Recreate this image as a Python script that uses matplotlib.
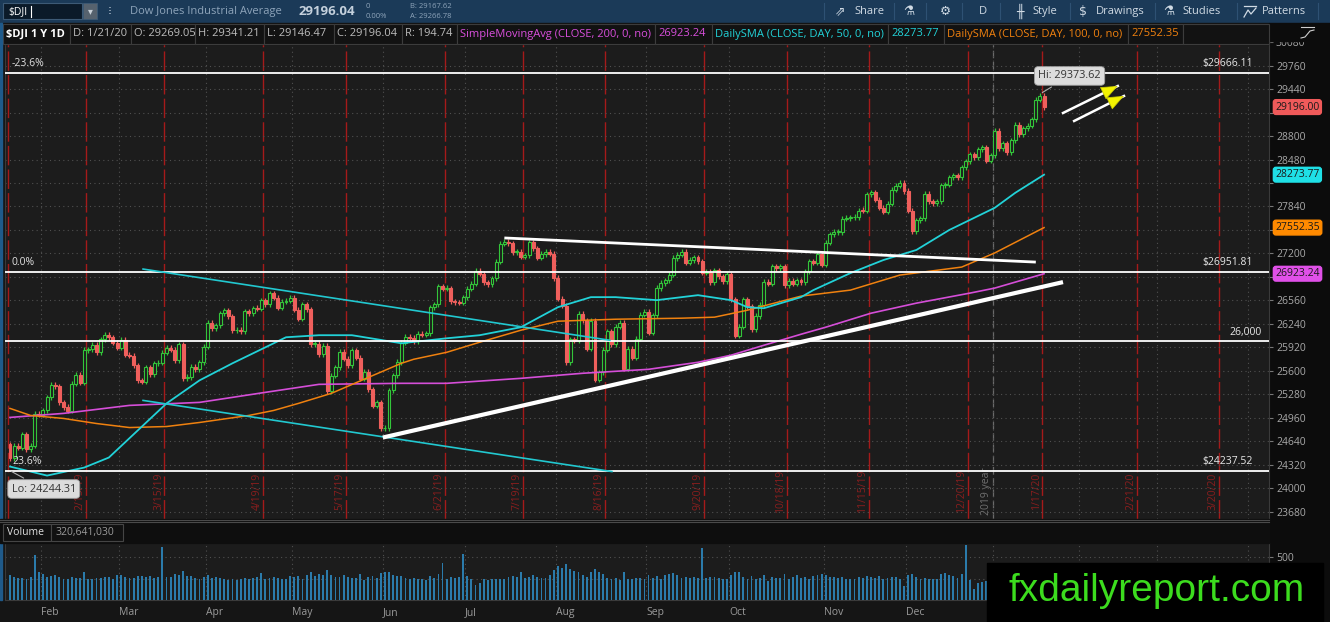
import matplotlib
matplotlib.use("Agg")
import matplotlib.pyplot as plt
from matplotlib.patches import Rectangle
from matplotlib.transforms import blended_transform_factory
import numpy as np
import pandas as pd

plt.rcParams['font.family'] = ['Open Sans', 'DejaVu Sans']

# ---------------- data ----------------
holidays = ['2019-01-21', '2019-02-18', '2019-04-19', '2019-05-27', '2019-07-04',
            '2019-09-02', '2019-11-28', '2019-12-25', '2020-01-01', '2020-01-20',
            '2020-02-17']
calendar = pd.bdate_range('2019-01-18', '2020-04-30', freq='C', holidays=holidays)
first_day = pd.Timestamp('2019-01-22')

first_open = 24600
closes = [
    # Jan 2019
    24404, 24575, 24553, 24737, 24528, 24579, 25014, 24999,
    # Feb
    25064, 25239, 25411, 25390, 25169, 25106, 25053, 25425, 25543, 25439,
    25883, 25891, 25954, 25850, 26031, 26091, 26057, 25985, 25916,
    # Mar
    26026, 25819, 25806, 25673, 25473, 25450, 25650, 25554, 25702, 25709, 25849,
    25914, 25887, 25745, 25962, 25502, 25516, 25657, 25625, 25717, 25929,
    # Apr
    26258, 26179, 26218, 26385, 26425, 26341, 26150, 26157, 26143, 26412, 26384,
    26452, 26449, 26559, 26511, 26656, 26597, 26462, 26543, 26554, 26592,
    # May
    26430, 26307, 26504, 26438, 25965, 25967, 25828, 25942, 25324, 25532, 25648,
    25862, 25764, 25679, 25877, 25776, 25490, 25585, 25347, 25126, 25169, 24815,
    # Jun
    24819, 25332, 25539, 25720, 25984, 26062, 26048, 26004, 26106, 26090,
    26112, 26466, 26504, 26753, 26719, 26727, 26548, 26536, 26526, 26600,
    # Jul
    26718, 26787, 26966, 26922, 26806, 26784, 26860, 27088, 27332, 27359, 27336,
    27220, 27223, 27154, 27172, 27350, 27270, 27141, 27193, 27222, 27199, 26865,
    # Aug
    26583, 26485, 25718, 26030, 26008, 26379, 26287, 25898, 26280, 25480, 25579,
    25886, 26136, 25962, 26202, 26252, 25629, 25898, 25778, 26036, 26362, 26403,
    # Sep
    26118, 26356, 26728, 26797, 26835, 26909, 27137, 27182, 27219, 27076,
    27111, 27147, 27095, 26935, 26949, 26808, 26970, 26891, 26820, 26917,
    # Oct
    26573, 26079, 26201, 26574, 26478, 26165, 26347, 26497, 26817, 26787, 27024, 27001,
    27026, 26770, 26828, 26788, 26834, 26806, 26958, 27091, 27071, 27186, 27046,
    # Nov
    27347, 27462, 27492, 27493, 27675, 27681, 27691, 27691, 27784, 27782,
    28005, 28036, 27934, 27821, 27766, 27876, 28066, 28122, 28164, 28051,
    # Dec
    27783, 27503, 27650, 27678, 28015, 27910, 27881, 27912, 28132, 28135, 28236,
    28268, 28240, 28377, 28455, 28551, 28515, 28621, 28645, 28462, 28538,
    # Jan 2020
    28869, 28634, 28703, 28583, 28745, 28956, 28824, 28907, 28940, 29030,
    29298, 29348, 29196,
]

# volume, millions
volumes = [
    290, 270, 260, 255, 250, 265, 520, 330,
    300, 270, 280, 285, 265, 250, 245, 270, 255, 260, 330, 250, 240, 260, 255, 270, 265, 250, 290,
    285, 270, 260, 255, 280, 275, 265, 280, 260, 270, 620, 270, 265, 300, 290, 340, 280, 275, 260, 250, 265,
    290, 260, 265, 255, 240, 235, 250, 230, 240, 260, 245, 255, 265, 310, 250, 260, 270, 255, 250, 245, 275,
    265, 275, 250, 295, 330, 280, 300, 290, 350, 290, 265, 270, 285, 270, 260, 255, 300, 230, 270, 280, 260, 310,
    320, 330, 290, 275, 280, 260, 250, 255, 245, 240, 235, 280, 260, 300, 430, 250, 265, 260, 270, 540,
    280, 250, 170, 200, 240, 235, 250, 240, 250, 245, 265, 275, 270, 330, 260, 265, 285, 270, 255, 260, 290, 345,
    390, 370, 420, 360, 340, 330, 290, 270, 320, 360, 330, 300, 260, 250, 255, 235, 330, 250, 245, 260, 255, 245,
    285, 260, 275, 250, 295, 300, 310, 290, 260, 270, 255, 265, 260, 600, 255, 270, 265, 260, 250, 240,
    290, 330, 320, 270, 245, 275, 250, 260, 290, 220, 270, 255, 260, 300, 250, 270, 290, 260, 265, 250, 275, 285, 300,
    290, 270, 265, 260, 270, 250, 240, 250, 265, 260, 280, 270, 255, 275, 250, 260, 265, 270, 250, 160,
    290, 300, 270, 250, 260, 245, 250, 240, 300, 310, 290, 280, 260, 300, 640, 230, 130, 200, 210, 220, 240,
    270, 280, 255, 265, 290, 280, 270, 265, 300, 290, 330, 350, 321,
]

# moving averages read at sampled bars (bar index, value)
sma50_idx = [0, 9, 18, 24, 31, 38, 46, 54, 62, 67, 75, 83, 89, 95, 106, 114, 124, 133, 141, 147,
             157, 167, 175, 179, 183, 192, 195, 204, 212, 220, 228, 239, 244, 251]
sma50_val = [24294, 24171, 24280, 24417, 24786, 25155, 25469, 25702, 25920, 26057, 26085, 26085,
             26030, 25975, 26043, 26085, 26194, 26467, 26604, 26604, 26563, 26631, 26563, 26467,
             26453, 26604, 26700, 26932, 27110, 27247, 27520, 27821, 28026, 28273.77]
sma100_idx = [0, 5, 13, 21, 29, 38, 46, 58, 64, 70, 78, 87, 95, 98, 106, 114, 124, 133, 147,
              163, 171, 179, 192, 204, 216, 231, 239, 251]
sma100_val = [25087, 24991, 24950, 24881, 24826, 24840, 24895, 24991, 25059, 25155, 25292, 25510,
              25702, 25757, 25852, 25989, 26153, 26276, 26303, 26317, 26331, 26426, 26618, 26700,
              26905, 27014, 27206, 27552.35]
sma200_idx = [0, 13, 29, 46, 62, 75, 95, 106, 124, 139, 155, 167, 175, 183, 192, 198, 209, 220,
              233, 239, 251]
sma200_val = [24964, 25019, 25128, 25169, 25306, 25415, 25429, 25429, 25497, 25566, 25620, 25716,
              25812, 25948, 26098, 26194, 26385, 26522, 26659, 26727, 26923.24]

fib_levels = [29666.11, 26951.81, 24237.52]
fib_left = ['-23.6%', '0.0%', '23.6%']
round_level = 26000

expirations = ['2019-01-18', '2019-02-15', '2019-03-15', '2019-04-19', '2019-05-17', '2019-06-21',
               '2019-07-19', '2019-08-16', '2019-09-20', '2019-10-18', '2019-11-15', '2019-12-20',
               '2020-01-17', '2020-02-21', '2020-03-20']

# drawn trendlines: (bar, price) end points
white_upper = ([120, 249], [27411, 27082])
white_lower = ([90.5, 255.6], [24690, 26809])
cyan_upper = ([32.3, 145.6], [26987, 26016])
cyan_lower = ([32.3, 146.1], [25196, 24226])
arrows = [((255.6, 29115), (268.9, 29483)), ((258.3, 29006), (270.4, 29347))]

# ---------------- layout ----------------
W, H = 1330, 622
BG = '#1c1c1c'
fig = plt.figure(figsize=(W / 100, H / 100), dpi=100)
fig.patch.set_facecolor('#151515')
fig.add_artist(Rectangle((1269 / W, 0), 61 / W, 1, transform=fig.transFigure,
                         color='#0c0c0c', zorder=-5))


def fr(x0, y0, x1, y1):
    return [x0 / W, 1 - y1 / H, (x1 - x0) / W, (y1 - y0) / H]


ax = fig.add_axes(fr(5, 23, 1269, 519))
vax = fig.add_axes(fr(5, 543, 1269, 600))
start = calendar.get_loc(first_day)
pos = np.arange(len(calendar)) - start

xlim = (-1.21, 305.6)
for a in (ax, vax):
    a.set_facecolor(BG)
    a.set_xlim(*xlim)
    for s in a.spines.values():
        s.set_color('#3a3a3a')
        s.set_linewidth(0.8)

month_first = [k for k in range(1, len(calendar)) if calendar[k].month != calendar[k - 1].month]
month_x = pos[month_first] - 0.5
month_lbl = [calendar[k].strftime('%b') for k in month_first]

# ---------------- price panel ----------------
ax.set_ylim(23579, 30342)
ax.set_xticks(month_x)
yt = np.arange(23680, 30081, 320)
# tick labels hidden where the price tags sit on top of them
hidden = {29120, 28160, 27520, 26880}
ax.set_yticks(yt, ['' if v in hidden else str(v) for v in yt])
ax.yaxis.tick_right()
ax.tick_params(axis='x', length=0, labelbottom=False)
ax.tick_params(axis='y', colors='#777777', labelcolor='#a8a8a8', labelsize=7.5, length=3, pad=2)
ax.grid(True, ls=(0, (1, 3)), color='#505050', lw=0.8)

c = np.array(closes, dtype=float)
o = np.r_[first_open, c[:-1]]          # open taken as the prior close
xi = np.arange(len(c))
up = c >= o
body_lo = np.minimum(o, c)
body_h = np.maximum(np.abs(c - o), 10)
GREEN, RED = '#33c53a', '#ef5f5c'
ax.vlines(xi, body_lo - 35, body_lo + body_h + 35, colors=np.where(up, GREEN, RED), lw=0.9, zorder=3)
ax.bar(xi[up], body_h[up], bottom=body_lo[up], width=0.72, facecolor=BG, edgecolor=GREEN,
       lw=0.8, zorder=4)
ax.bar(xi[~up], body_h[~up], bottom=body_lo[~up], width=0.72, facecolor=RED, edgecolor=RED,
       lw=0.8, zorder=4)

# expiration markers
label_y = 23960
for d in expirations:
    t = pd.Timestamp(d)
    k = calendar.searchsorted(t)
    xm = (pos[k] + 0.5) if t in calendar else (pos[k] - 0.5)
    ax.axvline(xm, color='#a51a1a', ls=(0, (14, 3)), lw=1.0, zorder=1)
    if d != '2019-01-18':
        ax.text(xm - 1.45, label_y, f'{t.month}/{t.day}/{t.strftime("%y")}', rotation=90,
                ha='center', va='center', fontsize=7.5, color='#8a1e1e', zorder=1, clip_on=True)

year_x = pos[calendar.get_loc(pd.Timestamp('2020-01-02'))] - 0.5
ax.axvline(year_x, color='#6a6a6a', ls=(0, (6, 3)), lw=0.9, zorder=1)
ax.text(year_x - 1.45, label_y, '2019 year', rotation=90, ha='center', va='center',
        fontsize=7.5, color='#707070', zorder=1)

# moving averages
ax.plot(sma200_idx, sma200_val, color='#d54ed8', lw=1.2, zorder=5)
ax.plot(sma100_idx, sma100_val, color='#f0810f', lw=1.1, zorder=5)
ax.plot(sma50_idx, sma50_val, color='#22d2d8', lw=1.3, zorder=5)

# levels
blend = blended_transform_factory(ax.transAxes, ax.transData)
for lv, lbl in zip(fib_levels, fib_left):
    ax.axhline(lv, color='white', lw=1.3, zorder=6)
    ax.annotate(lbl, xy=(0.0055, lv), xycoords=blend, xytext=(0, 2.5), textcoords='offset points',
                ha='left', va='bottom', fontsize=7.5, color='#e0e0e0', zorder=7)
    ax.annotate(f'${lv:.2f}', xy=(0.9873, lv), xycoords=blend, xytext=(0, 2.5),
                textcoords='offset points', ha='right', va='bottom', fontsize=7.5,
                color='#e8e8e8', zorder=7)
ax.axhline(round_level, color='white', lw=1.3, zorder=6)
ax.annotate(f'{round_level:,}', xy=(0.9945, round_level), xycoords=blend, xytext=(0, 2.5),
            textcoords='offset points', ha='right', va='bottom', fontsize=7.5, color='#e8e8e8',
            zorder=7)

# trendlines
ax.plot(*cyan_upper, color='#22c8d0', lw=1.2, zorder=6)
ax.plot(*cyan_lower, color='#22c8d0', lw=1.2, zorder=6)
ax.plot(*white_upper, color='white', lw=2.0, zorder=6, solid_capstyle='butt')
ax.plot(*white_lower, color='white', lw=3.0, zorder=6, solid_capstyle='butt')
for (x0, y0), (x1, y1) in arrows:
    ax.plot([x0, x1], [y0, y1], color='white', lw=1.8, zorder=7)
    ax.annotate('', xy=(x1, y1), xytext=(x0 + (x1 - x0) * 0.75, y0 + (y1 - y0) * 0.75),
                arrowprops=dict(arrowstyle='-|>,head_length=1.1,head_width=0.45', mutation_scale=10,
                                fc='#f4f400', ec='#c8c800', lw=0.5, shrinkA=0, shrinkB=0),
                zorder=8)

# hi / lo callouts
box = dict(boxstyle='round,pad=0.35,rounding_size=0.35', fc='#dcdcdc', ec='#a0a0a0', lw=0.6)
ax.annotate('Hi: 29373.62', xy=(250, 29373.62), xytext=(257.2, 29620), ha='center', va='center',
            fontsize=7.8, color='#333333', bbox=box, zorder=9,
            arrowprops=dict(arrowstyle='-', color='#b0b0b0', lw=0.8))
ax.annotate('Lo: 24244.31', xy=(-0.2, 24244.31), xytext=(8.2, 23988), ha='center', va='center',
            fontsize=7.8, color='#333333', bbox=box, zorder=9,
            arrowprops=dict(arrowstyle='-', color='#b0b0b0', lw=0.8))

# price tags on the right axis
for val, col in [(closes[-1], '#f05a5a'), (sma50_val[-1], '#1fe0e6'),
                 (sma100_val[-1], '#ff8a00'), (sma200_val[-1], '#e050e8')]:
    ax.annotate(f'{val:.2f}', xy=(1, val), xycoords=blend, xytext=(4.5, 0),
                textcoords='offset points', ha='left', va='center', fontsize=7.5,
                color='#1a1a1a', annotation_clip=False, zorder=10,
                bbox=dict(boxstyle='round,pad=0.18,rounding_size=0.25', fc=col, ec=col))

# ---------------- volume panel ----------------
vax.bar(xi, volumes, width=0.45, color='#2b7bab', zorder=3)
vax.set_ylim(0, 663)
vax.set_xticks(month_x, month_lbl)
vax.set_yticks([250, 500], ['', '500'])
vax.yaxis.tick_right()
vax.tick_params(axis='y', colors='#777777', labelcolor='#a8a8a8', labelsize=7.5, length=3, pad=2)
vax.tick_params(axis='x', length=0, pad=5, labelsize=7.5, labelcolor='#9a9a9a')
for t in vax.get_xticklabels():
    t.set_ha('left')
vax.grid(True, ls=(0, (1, 3)), color='#505050', lw=0.8)

# ---------------- overlay (toolbar, header rows, watermark) ----------------
ov = fig.add_axes([0, 0, 1, 1], zorder=20)
ov.set_xlim(0, W)
ov.set_ylim(H, 0)
ov.axis('off')
ov.patch.set_alpha(0)

# top toolbar
ov.add_patch(Rectangle((0, 0), W, 22.5, color='#1b3a58'))
ov.add_patch(Rectangle((3, 3), 79, 16, fc='#0b1a29', ec='#3d5a76', lw=0.8))
ov.text(8, 11.5, '$DJI', color='white', fontsize=7.5, va='center')
ov.plot([31, 31], [6, 17], color='white', lw=0.8)
ov.add_patch(Rectangle((83, 3), 14, 16, fc='#56626e', ec='#3d5a76', lw=0.6))
ov.text(90, 11.5, '▾', color='#c8d0d8', fontsize=7, ha='center', va='center',
        family='DejaVu Sans')
ov.text(110, 11.5, '⁝', color='#c8d4e0', fontsize=9, ha='center', va='center',
        family='DejaVu Sans')
ov.text(130, 11.5, 'Dow Jones Industrial Average', color='#8ea4ba', fontsize=8, va='center')
ov.text(299, 11.5, '29196.04', color='#c4d0dc', fontsize=9.5, va='center', weight='bold')
ov.text(366, 7, '0', color='#8ea4ba', fontsize=5.5, va='center')
ov.text(366, 16, '0.00%', color='#8ea4ba', fontsize=5.5, va='center')
ov.text(410, 7, 'B: 29167.62', color='#8ea4ba', fontsize=5.5, va='center')
ov.text(410, 16, 'A: 29266.78', color='#8ea4ba', fontsize=5.5, va='center')
for sx in [824, 894, 926, 962, 1000, 1070, 1155, 1237, 1318]:
    ov.plot([sx, sx], [3, 19], color='#2e5173', lw=0.8)
tool_items = [(840, '⇗'), (909, '⚗'), (945, '⚙'), (1020, '╫'), (1083, '$'), (1169, '⚗')]
for tx, g in tool_items:
    ov.text(tx, 11.5, g, color='#d0dae4', fontsize=9, ha='center', va='center',
            family='DejaVu Sans')
# patterns icon: small zigzag under a bar
ov.plot([1244, 1256], [5.5, 5.5], color='#d0dae4', lw=0.9)
ov.plot([1244, 1248, 1251, 1256], [17, 10, 14, 8], color='#d0dae4', lw=0.9)
for tx, s in [(854, 'Share'), (979, 'D'), (1032, 'Style'), (1096, 'Drawings'),
              (1182, 'Studies'), (1262, 'Patterns')]:
    ov.text(tx, 11.5, s, color='#d0dae4', fontsize=8, va='center')

# study header row
ov.add_patch(Rectangle((3, 23), 1266, 21, color='#121212'))
ov.add_patch(Rectangle((1269, 22.5), 61, 18, color='#0c0c0c'))
ov.plot([1301, 1314], [27, 27], color='#cfcfcf', lw=0.8)
ov.plot([1301, 1305, 1310, 1314], [38, 37, 31, 30], color='#cfcfcf', lw=0.8)
cells = [(3, 70, '$DJI 1 Y 1D', 'white', 'bold'), (70, 131, 'D: 1/21/20', '#bdbdbd', 'normal'),
         (131, 195, 'O: 29269.05', '#bdbdbd', 'normal'), (195, 264, 'H: 29341.21', '#bdbdbd', 'normal'),
         (264, 334, 'L: 29146.47', '#bdbdbd', 'normal'), (334, 402, 'C: 29196.04', '#bdbdbd', 'normal'),
         (402, 457, 'R: 194.74', '#bdbdbd', 'normal'),
         (457, 655, 'SimpleMovingAvg (CLOSE, 200, 0, no)', '#d94fdc', 'normal'),
         (655, 712, '26923.24', '#d94fdc', 'normal'),
         (712, 888, 'DailySMA (CLOSE, DAY, 50, 0, no)', '#22d2d8', 'normal'),
         (888, 944, '28273.77', '#22d2d8', 'normal'),
         (944, 1128, 'DailySMA (CLOSE, DAY, 100, 0, no)', '#f0810f', 'normal'),
         (1128, 1183, '27552.35', '#f0810f', 'normal'), (1183, 1269, '', 'white', 'normal')]
for x0, x1, s, col, wt in cells:
    ov.add_patch(Rectangle((x0, 23.5), x1 - x0, 20, fc='#121212', ec='#3c3c3c', lw=0.8))
    ov.text(x0 + 3, 34, s, color=col, fontsize=8, va='center', weight=wt)

# left edge line
ov.add_patch(Rectangle((0, 23), 2, 577, color='#1f5a8a'))

# volume header band
ov.add_patch(Rectangle((0, 519), 1269, 24, color='#0e0e0e'))
ov.plot([0, 1269], [520, 520], color='#4a4a4a', lw=0.8)
ov.plot([0, 1269], [522, 522], color='#4a4a4a', lw=0.8)
ov.add_patch(Rectangle((3, 524), 48, 17, fc='#111111', ec='#454545', lw=0.8))
ov.add_patch(Rectangle((51, 524), 72, 17, fc='#111111', ec='#454545', lw=0.8))
ov.text(7, 532.5, 'Volume', color='#e0e0e0', fontsize=7.5, va='center')
ov.text(55, 532.5, '320,641,030', color='#9a9a9a', fontsize=7.5, va='center')

# watermark
ov.add_patch(Rectangle((987, 563), 336, 59, color='black'))
ov.text(1157, 591, 'fxdailyreport.com', color='#3cdc1e', fontsize=28, ha='center', va='center',
        family='Liberation Sans')

fig.savefig('out.png', dpi=100, facecolor=fig.get_facecolor())
